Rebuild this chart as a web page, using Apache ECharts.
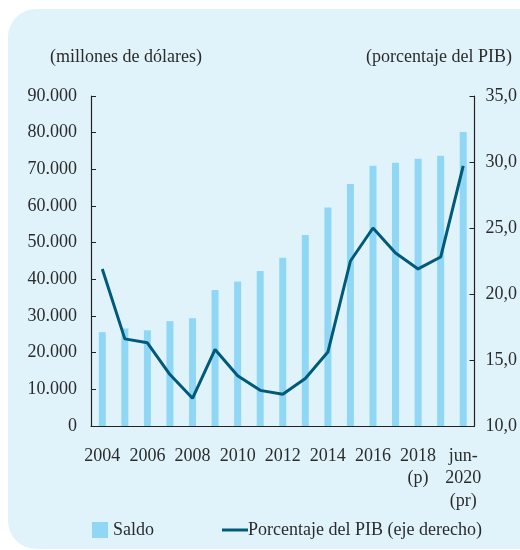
<!DOCTYPE html>
<html><head><meta charset="utf-8">
<script src="https://cdn.jsdelivr.net/npm/echarts@6/dist/echarts.min.js"></script>
<style>html,body{margin:0;padding:0;background:#fff;}#c{width:520px;height:550px;}</style>
</head><body><div id="c"></div>
<script>
const categories = ['2004','2005','2006','2007','2008','2009','2010','2011','2012','2013','2014','2015','2016','2017','2018\n(p)','2019','jun-\n2020\n(pr)'];
const saldo = [25600, 26600, 26100, 28600, 29400, 37100, 39400, 42300, 45900, 52100, 59600, 66000, 71000, 71800, 72900, 73700, 80200];
const porcentajePIB = [21.9, 16.6, 16.3, 13.9, 12.1, 15.8, 13.8, 12.7, 12.4, 13.6, 15.6, 22.5, 25.0, 23.1, 21.9, 22.8, 29.7];
const leftTicks = [0, 10000, 20000, 30000, 40000, 50000, 60000, 70000, 80000, 90000];
const rightTicks = [10, 15, 20, 25, 30, 35];

const FONT = '"Liberation Serif", "DejaVu Serif", serif';
const FS = 18;
const TXT = '#2b2b2b';
const chart = echarts.init(document.getElementById('c'), null, {renderer: 'canvas'});
chart.setOption({
  backgroundColor: '#ffffff',
  textStyle: {fontFamily: FONT, color: TXT},
  animation: false,
  graphic: [{
    type: 'rect', z: -10, silent: true,
    shape: {x: 8, y: 9, width: 540, height: 540, r: 28},
    style: {fill: '#e0f3fb'}
  }, {
    type: 'text', left: 50, top: 48,
    style: {text: '(millones de dólares)', font: FS + 'px ' + FONT, fill: TXT}
  }, {
    type: 'text', right: 8, top: 48,
    style: {text: '(porcentaje del PIB)', font: FS + 'px ' + FONT, fill: TXT}
  }],
  grid: {left: 91, right: 44, top: 96, bottom: 124, containLabel: false},
  legend: [{
    data: ['Saldo'], left: 87, top: 516, itemWidth: 16, itemHeight: 16, itemGap: 6,
    icon: 'rect',
    textStyle: {fontFamily: FONT, fontSize: FS, color: TXT}
  }, {
    data: ['Porcentaje del PIB (eje derecho)'], left: 217, top: 516, itemWidth: 26, itemHeight: 3, itemGap: 0,
    icon: 'rect',
    textStyle: {fontFamily: FONT, fontSize: FS, color: TXT, padding: [0,0,0,-5]}
  }],
  xAxis: {
    type: 'category', data: categories, boundaryGap: true,
    axisLine: {lineStyle: {color: '#222', width: 1.2}},
    axisTick: {inside: true, length: 6, interval: 0, lineStyle: {color: '#222'}},
    axisLabel: {interval: 1, fontFamily: FONT, fontSize: FS, color: TXT, margin: 19, lineHeight: 22.5, verticalAlign: 'top'}
  },
  yAxis: [{
    type: 'value', min: 0, max: 90000, interval: 10000, position: 'left',
    splitLine: {show: false},
    axisLine: {show: true, lineStyle: {color: '#222', width: 1.2}},
    axisTick: {show: true, inside: true, length: 5, lineStyle: {color: '#222'}},
    axisLabel: {fontFamily: FONT, fontSize: FS, color: TXT, margin: 14,
      formatter: v => v === 0 ? '0' : String(v).replace(/\B(?=(\d{3})+(?!\d))/g, '.')}
  }, {
    type: 'value', min: 10, max: 35, interval: 5, position: 'right',
    splitLine: {show: false},
    axisLine: {show: true, lineStyle: {color: '#222', width: 1.2}},
    axisTick: {show: true, inside: true, length: 5, lineStyle: {color: '#222'}},
    axisLabel: {fontFamily: FONT, fontSize: FS, color: TXT, margin: 11,
      formatter: v => v.toFixed(1).replace('.', ',')}
  }],
  series: [{
    name: 'Saldo', type: 'bar', data: saldo, barWidth: 7, yAxisIndex: 0,
    itemStyle: {color: '#8fd7f5'}
  }, {
    name: 'Porcentaje del PIB (eje derecho)', type: 'line', data: porcentajePIB, yAxisIndex: 1,
    symbol: 'none', lineStyle: {color: '#005a7a', width: 3}, itemStyle: {color: '#005a7a'}
  }]
});
</script></body></html>
